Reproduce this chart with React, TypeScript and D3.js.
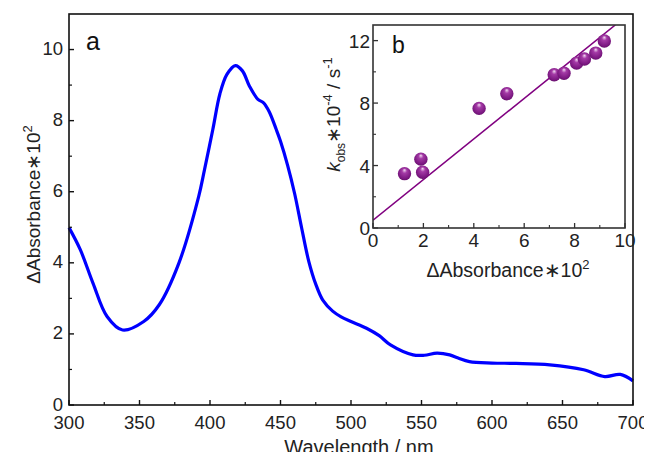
import React from "react";
import * as d3 from "d3";

// Difference absorption spectrum (wavelength in nm, ΔAbsorbance×10²)
const wavelength = [300, 308, 317, 327, 338, 353, 364, 378, 392, 396, 402, 407, 412, 418, 423, 428, 434, 438, 442, 447, 450, 455, 460, 465, 470, 475, 480, 487, 493, 500, 511, 520, 528, 544, 552, 561, 570, 576, 584, 600, 617, 641, 665, 680, 691, 700];
const absorbance = [4.99, 4.37, 3.43, 2.49, 2.11, 2.35, 2.82, 4.0, 5.87, 6.6, 7.75, 8.75, 9.3, 9.55, 9.4, 8.97, 8.6, 8.5, 8.25, 7.75, 7.42, 6.75, 5.95, 4.98, 4.05, 3.4, 2.95, 2.64, 2.48, 2.35, 2.16, 1.95, 1.69, 1.41, 1.4, 1.46, 1.41, 1.32, 1.22, 1.18, 1.17, 1.13, 0.99, 0.8, 0.86, 0.68];

// Inset: k_obs vs ΔAbsorbance
const insetDA = [1.25, 1.9, 1.97, 4.21, 5.31, 7.19, 7.58, 8.08, 8.39, 8.84, 9.18];
const insetK = [3.48, 4.41, 3.57, 7.66, 8.6, 9.81, 9.91, 10.56, 10.82, 11.2, 11.98];
const fitIntercept = 0.5;
const fitSlope = 1.3;

const mainXTicks = [300, 350, 400, 450, 500, 550, 600, 650, 700];
const mainXMinor = [325, 375, 425, 475, 525, 575, 625, 675];
const mainYTicks = [0, 2, 4, 6, 8, 10];
const mainYMinor = [1, 3, 5, 7, 9];
const insetXTicks = [0, 2, 4, 6, 8, 10];
const insetXMinor = [1, 3, 5, 7, 9];
const insetYTicks = [0, 4, 8, 12];
const insetYMinor = [2, 6, 10];

const FONT = "'Liberation Sans', Arial, sans-serif";

export default function App() {
  const W = 652, H = 460;
  const m = { left: 69, right: 633, top: 14, bottom: 405 };
  const x = d3.scaleLinear().domain([300, 700]).range([m.left, m.right]);
  const y = d3.scaleLinear().domain([0, 11]).range([m.bottom, m.top]);

  const ins = { left: 373, right: 625, top: 25, bottom: 228 };
  const ix = d3.scaleLinear().domain([0, 10]).range([ins.left, ins.right]);
  const iy = d3.scaleLinear().domain([0, 13]).range([ins.bottom, ins.top]);

  const spectrum = wavelength.map((w, i) => [w, absorbance[i]] as [number, number]);
  const line = d3
    .line<[number, number]>()
    .x((d) => x(d[0]))
    .y((d) => y(d[1]))
    .curve(d3.curveCatmullRom.alpha(0.5));

  const fitEnd = (13 - fitIntercept) / fitSlope;

  return (
    <div style={{ margin: -8 }}>
      <svg width={W} height={H} style={{ display: "block", background: "#fff" }} fontFamily={FONT}>
        <defs>
          <radialGradient id="ball" cx="0.5" cy="0.45" r="0.6" fx="0.5" fy="0.22">
            <stop offset="0" stopColor="#f4dcf4" />
            <stop offset="0.3" stopColor="#a43aa6" />
            <stop offset="0.8" stopColor="#7a1780" />
            <stop offset="1" stopColor="#5e0d63" />
          </radialGradient>
          <clipPath id="insetClip">
            <rect x={ins.left} y={ins.top} width={ins.right - ins.left} height={ins.bottom - ins.top} />
          </clipPath>
        </defs>

        {/* main spectrum */}
        <path d={line(spectrum) || ""} fill="none" stroke="#0000ff" strokeWidth={3.2} strokeLinejoin="round" />

        {/* main frame */}
        <rect x={m.left} y={m.top} width={m.right - m.left} height={m.bottom - m.top} fill="none" stroke="#111" strokeWidth={1.6} />

        {mainXTicks.map((t) => (
          <g key={"mx" + t}>
            <line x1={x(t)} x2={x(t)} y1={m.bottom} y2={m.bottom - 5} stroke="#111" strokeWidth={1.4} />
            <text x={x(t)} y={m.bottom + 24} textAnchor="middle" fontSize={18.5} fill="#222">{t}</text>
          </g>
        ))}
        {mainXMinor.map((t) => (
          <line key={"mxm" + t} x1={x(t)} x2={x(t)} y1={m.bottom} y2={m.bottom - 3} stroke="#111" strokeWidth={1.2} />
        ))}
        {mainYTicks.map((t) => (
          <g key={"my" + t}>
            <line x1={m.left} x2={m.left + 5} y1={y(t)} y2={y(t)} stroke="#111" strokeWidth={1.4} />
            <text x={m.left - 6} y={y(t) + 5.5} textAnchor="end" fontSize={18.5} fill="#222">{t}</text>
          </g>
        ))}
        {mainYMinor.map((t) => (
          <line key={"mym" + t} x1={m.left} x2={m.left + 3} y1={y(t)} y2={y(t)} stroke="#111" strokeWidth={1.2} />
        ))}

        <text x={86} y={50} fontSize={25} fill="#111">a</text>

        <text x={359} y={454} textAnchor="middle" fontSize={20} fill="#222">
          Wavelength / nm
        </text>
        <text transform={`translate(40,${(m.top + m.bottom) / 2 - 5}) rotate(-90)`} textAnchor="middle" fontSize={19} fill="#222">
          ΔAbsorbance∗10<tspan dy={-8} fontSize={13}>2</tspan>
        </text>

        {/* inset */}
        <g clipPath="url(#insetClip)">
          <line x1={ix(0)} y1={iy(fitIntercept)} x2={ix(fitEnd)} y2={iy(13)} stroke="#800080" strokeWidth={1.6} />
        </g>
        {insetDA.map((v, i) => (
          <circle key={"pt" + i} cx={ix(v)} cy={iy(insetK[i])} r={6.7} fill="url(#ball)" />
        ))}
        <rect x={ins.left} y={ins.top} width={ins.right - ins.left} height={ins.bottom - ins.top} fill="none" stroke="#333" strokeWidth={1.6} />

        {insetXTicks.map((t) => (
          <g key={"ix" + t}>
            <line x1={ix(t)} x2={ix(t)} y1={ins.bottom} y2={ins.bottom - 5} stroke="#333" strokeWidth={1.3} />
            <text x={ix(t)} y={ins.bottom + 19} textAnchor="middle" fontSize={19} fill="#222">{t}</text>
          </g>
        ))}
        {insetXMinor.map((t) => (
          <line key={"ixm" + t} x1={ix(t)} x2={ix(t)} y1={ins.bottom} y2={ins.bottom - 3} stroke="#333" strokeWidth={1.1} />
        ))}
        {insetYTicks.map((t) => (
          <g key={"iy" + t}>
            <line x1={ins.left} x2={ins.left + 5} y1={iy(t)} y2={iy(t)} stroke="#333" strokeWidth={1.3} />
            <text x={ins.left - 3} y={iy(t) + 7} textAnchor="end" fontSize={19} fill="#222">{t}</text>
          </g>
        ))}
        {insetYMinor.map((t) => (
          <line key={"iym" + t} x1={ins.left} x2={ins.left + 3} y1={iy(t)} y2={iy(t)} stroke="#333" strokeWidth={1.1} />
        ))}

        <text x={392} y={53} fontSize={23} fill="#111">b</text>

        <text x={508} y={277} textAnchor="middle" fontSize={19.5} fill="#222">
          ΔAbsorbance∗10<tspan dy={-8} fontSize={13}>2</tspan>
        </text>
        <text transform={`translate(340,${(ins.top + ins.bottom) / 2 - 12}) rotate(-90)`} textAnchor="middle" fontSize={19} fill="#222">
          <tspan fontStyle="italic">k</tspan>
          <tspan dy={5} fontSize={12}>obs</tspan>
          <tspan dy={-5}>∗10</tspan>
          <tspan dy={-8} fontSize={13}>-4</tspan>
          <tspan dy={8}> / s</tspan>
          <tspan dy={-8} fontSize={13}>-1</tspan>
        </text>
      </svg>
    </div>
  );
}
